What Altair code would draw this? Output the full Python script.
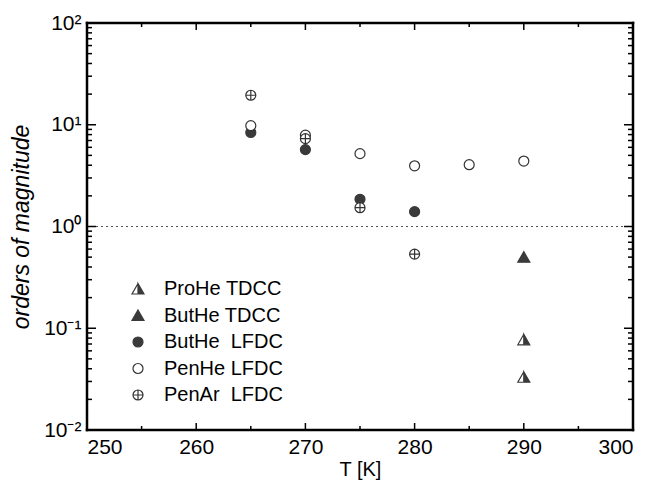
import altair as alt
import pandas as pd

# ---- data ----
series_order = ["ProHe TDCC", "ButHe TDCC", "ButHe\u00a0\u00a0LFDC", "PenHe LFDC", "PenAr\u00a0\u00a0LFDC"]

buthe_lfdc_T = [265, 270, 275, 280]
buthe_lfdc_v = [8.4, 5.7, 1.85, 1.40]
penhe_lfdc_T = [265, 270, 275, 280, 285, 290]
penhe_lfdc_v = [9.8, 7.9, 5.2, 3.95, 4.05, 4.4]
penar_lfdc_T = [265, 270, 275, 280]
penar_lfdc_v = [19.5, 7.3, 1.53, 0.535]
buthe_tdcc_T = [290]
buthe_tdcc_v = [0.50]
prohe_tdcc_T = [290, 290]
prohe_tdcc_v = [0.077, 0.033]

x_ticks = [250, 255, 260, 265, 270, 275, 280, 285, 290, 295, 300]
x_labels = [250, 260, 270, 280, 290, 300]
y_major = [0.01, 0.1, 1, 10, 100]
y_minor = [m * 10.0 ** e for e in (-2, -1, 0, 1) for m in range(2, 10)]
ref_value = [1.0]

rows = []
for name, Ts, vs in [
    (series_order[2], buthe_lfdc_T, buthe_lfdc_v),
    (series_order[3], penhe_lfdc_T, penhe_lfdc_v),
    (series_order[4], penar_lfdc_T, penar_lfdc_v),
    (series_order[1], buthe_tdcc_T, buthe_tdcc_v),
    (series_order[0], prohe_tdcc_T, prohe_tdcc_v),
]:
    for t, v in zip(Ts, vs):
        rows.append({"series": name, "T": t, "value": v})
df = pd.DataFrame(rows)

W, H = 546, 407
FONT = "Liberation Sans"
DARK = "#3a3a3a"

half_tri = "M0,-1.1L1.2,1.0L0,1.0Z M0,-1.1L-1.2,1.0L0,1.0L-1.2,1.0Z"
full_tri = "M0,-1.1L1.2,1.0L-1.2,1.0Z"
cross_circ = "M-1,0A1,1,0,1,1,1,0A1,1,0,1,1,-1,0Z M-1,0L1,0 M0,-1L0,1"

xscale = alt.Scale(domain=[250, 300], nice=False, zero=False)
yscale = alt.Scale(type="log", domain=[0.01, 100], nice=False)

legend = alt.Legend(
    title=None, orient="none", legendX=41, legendY=256,
    labelFont=FONT, labelFontSize=20, labelColor="black",
    symbolSize=100, symbolStrokeWidth=1.2, rowPadding=6.5, labelOffset=16,
    padding=0,
)

label_expr = ("datum.value < 0.05 ? '10\u207b\u00b2' : datum.value < 0.5 ? '10\u207b\u00b9' : "
              "datum.value < 5 ? '10\u2070' : datum.value < 50 ? '10\u00b9' : '10\u00b2'")

points = alt.Chart(df).mark_point(opacity=1, fillOpacity=1, strokeWidth=1.2, size=100).encode(
    x=alt.X("T:Q", scale=xscale,
            axis=alt.Axis(values=x_labels, ticks=False, domain=False, grid=False,
                          labelFont=FONT, labelFontSize=21, labelColor="black", labelPadding=6,
                          title="T [K]", titleFont=FONT, titleFontSize=20, titleFontWeight="normal",
                          titleColor="black", titlePadding=2)),
    y=alt.Y("value:Q", scale=yscale,
            axis=alt.Axis(values=y_major, labelExpr=label_expr, ticks=False, domain=False, grid=False,
                          labelFont=FONT, labelFontSize=21, labelColor="black", labelPadding=6,
                          title="orders of magnitude", titleFont=FONT, titleFontSize=23,
                          titleFontStyle="italic", titleFontWeight="normal", titleColor="black",
                          titlePadding=10)),
    shape=alt.Shape("series:N", scale=alt.Scale(domain=series_order,
                    range=[half_tri, full_tri, "circle", "circle", cross_circ]), legend=legend),
    fill=alt.Fill("series:N", scale=alt.Scale(domain=series_order,
                  range=[DARK, DARK, DARK, "white", "white"]), legend=legend),
    stroke=alt.Stroke("series:N", scale=alt.Scale(domain=series_order,
                      range=[DARK, DARK, DARK, "#333333", "#333333"]), legend=legend),
)

ref = alt.Chart(pd.DataFrame({"v": ref_value})).mark_rule(
    strokeDash=[2, 3], color="#555555", strokeWidth=1.2
).encode(y=alt.Y("v:Q", scale=yscale))

def yticks(vals, length):
    d = pd.DataFrame({"v": vals})
    left = alt.Chart(d).mark_rule(color="black", strokeWidth=1.5).encode(
        y=alt.Y("v:Q", scale=yscale), x=alt.value(0), x2=alt.value(length))
    right = alt.Chart(d).mark_rule(color="black", strokeWidth=1.5).encode(
        y=alt.Y("v:Q", scale=yscale), x=alt.value(W), x2=alt.value(W - length))
    return [left, right]

def xticks(vals, length):
    d = pd.DataFrame({"t": vals})
    bottom = alt.Chart(d).mark_rule(color="black", strokeWidth=1.5).encode(
        x=alt.X("t:Q", scale=xscale), y=alt.value(H), y2=alt.value(H - length))
    top = alt.Chart(d).mark_rule(color="black", strokeWidth=1.5).encode(
        x=alt.X("t:Q", scale=xscale), y=alt.value(0), y2=alt.value(length))
    return [bottom, top]

one = pd.DataFrame({"f": [0]})
frame_style = dict(color="black", strokeWidth=2.5, strokeCap="square")
frame = [
    alt.Chart(one).mark_rule(**frame_style).encode(x=alt.value(0), x2=alt.value(W), y=alt.value(0)),
    alt.Chart(one).mark_rule(**frame_style).encode(x=alt.value(0), x2=alt.value(W), y=alt.value(H)),
    alt.Chart(one).mark_rule(**frame_style).encode(y=alt.value(0), y2=alt.value(H), x=alt.value(0)),
    alt.Chart(one).mark_rule(**frame_style).encode(y=alt.value(0), y2=alt.value(H), x=alt.value(W)),
]

layers = [ref]
layers += yticks(y_major, 9)
layers += yticks(y_minor, 5)
layers += xticks([t for t in x_ticks if t % 10 == 0], 7)
layers += xticks([t for t in x_ticks if t % 10 != 0], 4)
layers += frame
layers.append(points)

chart = alt.layer(*layers).properties(
    width=W, height=H,
    autosize=alt.AutoSizeParams(type="none"),
    padding={"left": 79, "top": 15, "right": 12, "bottom": 50},
    background="white",
).resolve_scale(
    x="shared", y="shared"
).configure_view(strokeWidth=0)

chart.save("out.html", embed_options={"renderer": "svg", "actions": False})
